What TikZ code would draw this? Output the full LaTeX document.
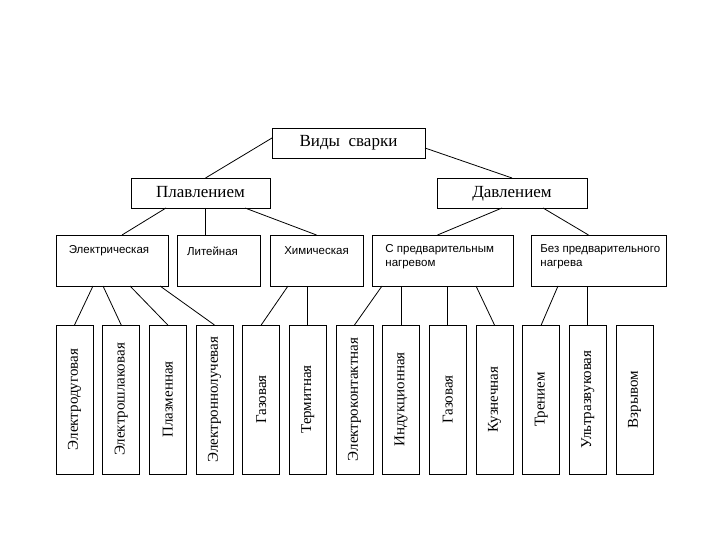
\documentclass[tikz,border=0pt]{standalone}
\usepackage{fontspec}
\setmainfont{Liberation Serif}
\newfontfamily\grpfont{Liberation Sans}
\usepackage{tikz}
\usetikzlibrary{positioning}

\begin{document}
\begin{tikzpicture}[x=1pt, y=-1pt, line width=0.8pt,
  head/.style={draw, inner sep=0pt, outer sep=0pt, minimum height=30pt, text height=12pt, text depth=4pt, font=\fontsize{17}{20}\selectfont},
  grp/.style={draw, inner sep=0pt, outer sep=0pt, minimum height=51pt},
  lbl/.style={inner sep=0pt, font=\grpfont\fontsize{11.5}{14.5}\selectfont},
  kind/.style={draw, inner sep=0pt, outer sep=0pt, minimum width=37pt, minimum height=149pt, font=\fontsize{15}{18}\selectfont}]
  \useasboundingbox (0,0) rectangle (720,540);
  % top levels
  \node[head, minimum width=153pt] (vidy) at (348.5,143) {Виды\ \ сварки};
  \node[head, minimum width=139pt] (plav) at (200.5,193) {Плавлением};
  \node[head, minimum width=150pt] (dav) at (512,193) {Давлением};
  \draw ([yshift=5pt]vidy.west) -- ([xshift=5pt]plav.north);
  \draw ([yshift=-5pt]vidy.east) -- (dav.north);
  % groups
  \node[grp, minimum width=112pt] (elec) at (112,260.5) {};
  \node[grp, minimum width=83pt] (lit) at (218.5,260.5) {};
  \node[grp, minimum width=93pt] (chem) at (316.5,260.5) {};
  \node[grp, minimum width=141pt] (spre) at (442.5,260.5) {};
  \node[grp, minimum width=135pt] (bez) at (598.5,260.5) {};
  \node[lbl] (elec-t) at ([xshift=-3pt,yshift=-16pt]elec.north) {Электрическая};
  \node[lbl] (lit-t) at ([xshift=-6pt,yshift=-16pt]lit.north) {Литейная};
  \node[lbl] (chem-t) at ([yshift=-16pt]chem.north) {Химическая};
  \node[lbl, anchor=north west, align=left] (spre-t) at ([xshift=13pt,yshift=-9pt]spre.north west) {С предварительным\\нагревом};
  \node[lbl, anchor=north west, align=left] (bez-t) at ([xshift=9pt,yshift=-9pt]bez.north west) {Без предварительного\\нагрева};
  \draw ([xshift=35pt]plav.south west) -- ([xshift=10pt]elec.north);
  \draw ([xshift=74pt]plav.south west) -- ([xshift=74pt]plav.south west |- lit.north);
  \draw ([xshift=114pt]plav.south west) -- (chem.north);
  \draw ([xshift=65pt]dav.south west) -- ([xshift=-5pt]spre.north);
  \draw ([xshift=106pt]dav.south west) -- ([xshift=-10pt]bez.north);
  % kinds of welding
  \node[kind] (arc) at (74.5,399.5) {\rotatebox{90}{Электродуговая}};
  \node[kind] (eslag) at (121.2,399.5) {\rotatebox{90}{Электрошлаковая}};
  \node[kind] (plasma) at (167.8,399.5) {\rotatebox{90}{Плазменная}};
  \node[kind] (ebeam) at (214.5,399.5) {\rotatebox{90}{Электроннолучевая}};
  \node[kind] (gas) at (261.2,399.5) {\rotatebox{90}{Газовая}};
  \node[kind] (thermit) at (307.8,399.5) {\rotatebox{90}{Термитная}};
  \node[kind] (econt) at (354.5,399.5) {\rotatebox{90}{Электроконтактная}};
  \node[kind] (induct) at (401.2,399.5) {\rotatebox{90}{Индукционная}};
  \node[kind] (gasp) at (447.8,399.5) {\rotatebox{90}{Газовая}};
  \node[kind] (forge) at (494.5,399.5) {\rotatebox{90}{Кузнечная}};
  \node[kind] (fric) at (541.2,399.5) {\rotatebox{90}{Трением}};
  \node[kind] (ultra) at (587.8,399.5) {\rotatebox{90}{Ультразвуковая}};
  \node[kind] (expl) at (634.5,399.5) {\rotatebox{90}{Взрывом}};
  \draw ([xshift=37pt]elec.south west) -- (arc.north);
  \draw ([xshift=47pt]elec.south west) -- (eslag.north);
  \draw ([xshift=74pt]elec.south west) -- (plasma.north);
  \draw ([xshift=104pt]elec.south west) -- (ebeam.north);
  \draw ([xshift=18pt]chem.south west) -- (gas.north);
  \draw (thermit.north) -- (thermit.north |- chem.south);
  \draw ([xshift=10pt]spre.south west) -- (econt.north);
  \draw (induct.north) -- (induct.north |- spre.south);
  \draw (gasp.north) -- (gasp.north |- spre.south);
  \draw ([xshift=104pt]spre.south west) -- (forge.north);
  \draw ([xshift=27pt]bez.south west) -- (fric.north);
  \draw (ultra.north) -- (ultra.north |- bez.south);
\end{tikzpicture}
\end{document}
